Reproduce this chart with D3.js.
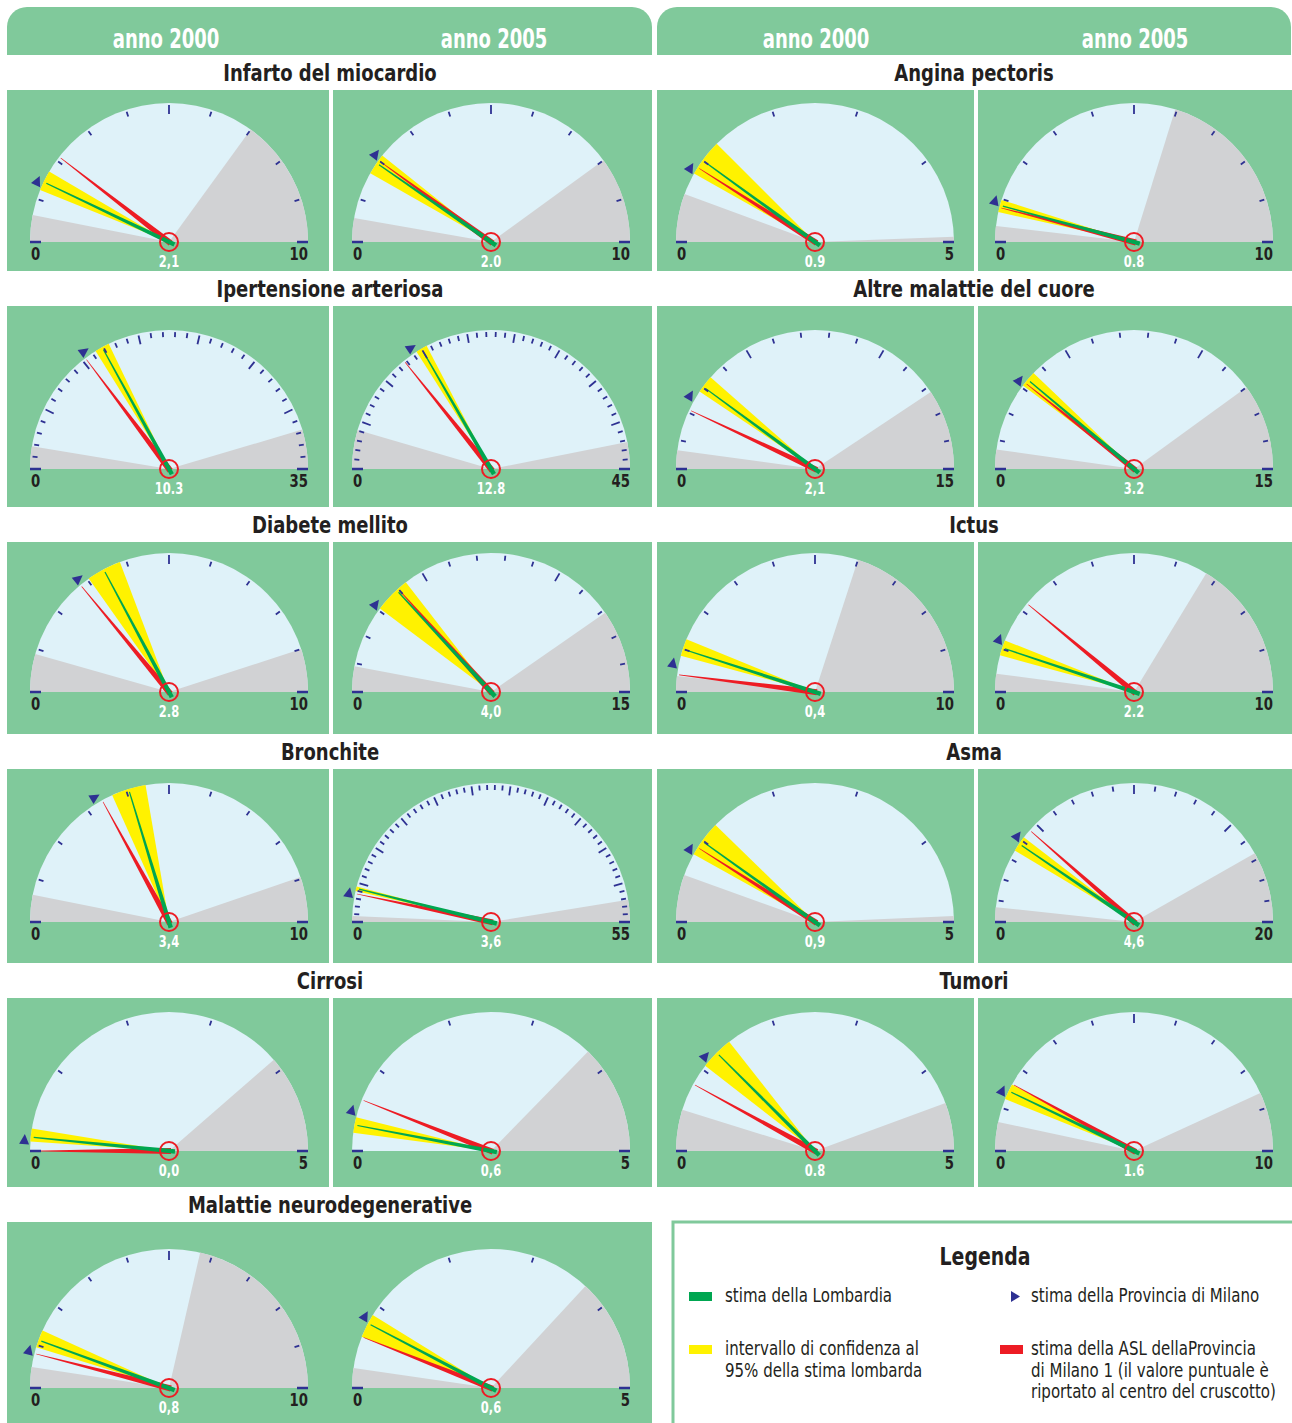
<!DOCTYPE html>
<html lang="it">
<head>
<meta charset="utf-8" />
<title>Cruscotti ASL Provincia di Milano 1</title>
<script src="https://cdnjs.cloudflare.com/ajax/libs/d3/7.8.5/d3.min.js"></script>
<style>
  body { margin: 0; background: #fff; }
  svg { display: block; font-family: "Liberation Sans Narrow", "Arial Narrow", "DejaVu Sans Condensed", sans-serif; font-stretch: condensed; }
</style>
</head>
<body>
<svg id="chart" width="1292" height="1423"></svg>
<script>
// ---- data: one entry per gauge, disease by disease, 2000 then 2005 ----
const years = ["anno 2000", "anno 2005"];
const diseases = ["Infarto del miocardio", "Angina pectoris", "Ipertensione arteriosa", "Altre malattie del cuore",
  "Diabete mellito", "Ictus", "Bronchite", "Asma", "Cirrosi", "Tumori", "Malattie neurodegenerative"];
const scaleMax  = [10, 10,   5, 10,   35, 45,   15, 15,   10, 15,   10, 10,   10, 55,   5, 20,   5, 5,   5, 10,   10, 5];
const grayLow   = [0.62, 0.55, 0.56, 0.37, 1.83, 4.08, 0.65, 0.67, 0.88, 0.89, 0.37, 0.42, 0.63, 0.76, 0.55, 0.68, 0, 0, 0.48, 0.67, 0.48, 0.23];
const grayHigh  = [7.0, 8.0, 4.94, 5.96, 31.8, 42.2, 12.2, 12.0, 9.0, 12.1, 6.0, 6.74, 8.95, 52.2, 4.93, 16.7, 3.86, 3.73, 4.44, 8.63, 5.72, 3.69];
const ciLow     = [1.22, 1.65, 0.82, 0.69, 11.3, 14.4, 2.82, 3.08, 3.04, 3.08, 0.84, 0.85, 3.66, 3.95, 0.81, 3.44, 0.11, 0.21, 1.05, 1.22, 0.95, 0.60];
const ciHigh    = [1.69, 2.14, 1.25, 0.98, 12.5, 15.6, 3.44, 3.64, 3.85, 4.35, 1.24, 1.21, 4.46, 4.52, 1.23, 4.17, 0.26, 0.39, 1.44, 1.59, 1.36, 0.88];
const lombardia = [1.42, 1.92, 1.0, 0.85, 11.9, 15.0, 3.03, 3.34, 3.44, 3.93, 1.0, 1.03, 4.06, 4.28, 0.99, 3.81, 0.16, 0.30, 1.25, 1.42, 1.12, 0.77];
const provincia = [1.37, 2.06, 0.85, 0.91, 10.5, 14.1, 2.53, 3.13, 2.84, 3.09, 0.63, 1.18, 3.28, 3.5, 0.84, 4.03, 0.12, 0.45, 1.13, 1.36, 0.83, 0.82];
const asl       = [2.1, 2.0, 0.9, 0.8, 10.3, 12.8, 2.1, 3.2, 2.8, 4.0, 0.4, 2.2, 3.4, 3.6, 0.9, 4.6, 0.0, 0.6, 0.8, 1.6, 0.8, 0.6];
const aslLabel  = ["2,1", "2.0", "0.9", "0.8", "10.3", "12.8", "2,1", "3.2", "2.8", "4,0", "0,4", "2.2",
  "3,4", "3,6", "0,9", "4,6", "0,0", "0,6", "0.8", "1.6", "0,8", "0,6"];
const legendItems = [
  {lines: ["stima della Lombardia"], mark: "green"},
  {lines: ["stima della Provincia di Milano"], mark: "triangle"},
  {lines: ["intervallo di confidenza al", "95% della stima lombarda"], mark: "yellow"},
  {lines: ["stima della ASL dellaProvincia", "di Milano 1 (il valore puntuale è", "riportato al centro del cruscotto)"], mark: "red"}
];

// ---- colours ----
const C = {
  green: "#80c99b", sky: "#dff2f9", gray: "#d1d2d4", yellow: "#fff200",
  needle: "#00a651", red: "#ed1c24", navy: "#2e3192", ink: "#231f20"
};

const svg = d3.select("#chart");

// text squeezed sideways to look like the narrow face of the original
function label(parent, x, y, txt, size, sx, opts = {}) {
  return parent.append("text")
    .attr("transform", `translate(${x},${y}) scale(${sx},1)`)
    .attr("text-anchor", opts.anchor || "start")
    .attr("font-size", size)
    .attr("font-weight", opts.bold ? "bold" : "normal")
    .attr("fill", opts.fill || C.ink)
    .text(txt);
}

// ---- layout ----
const bandTop = [55, 271, 507, 734, 963, 1187, 1423];
const titleH = 35;
const gaugeCy = [242, 469, 692, 922, 1151, 1388];
const colX = [[7, 329], [333, 652], [657, 974], [978, 1292]];
const gaugeCx = [169, 491, 815, 1134];
const headX = [166, 494, 816, 1135];
const sideCenter = [330, 974];
const R = 139;

// header bars with rounded top corners
function topRounded(x0, x1, y0, y1, r) {
  return `M${x0},${y1}V${y0 + r}A${r},${r} 0 0 1 ${x0 + r},${y0}H${x1 - r}A${r},${r} 0 0 1 ${x1},${y0 + r}V${y1}Z`;
}
[[7, 652], [657, 1291]].forEach(([x0, x1], s) => {
  svg.append("path").attr("d", topRounded(x0, x1, 7, 55, 20)).attr("fill", C.green);
  years.forEach((y, j) => {
    label(svg, headX[s * 2 + j], 48, y, 26, 0.77, {anchor: "middle", bold: true, fill: "#fff"});
  });
});

// ---- one gauge ----
function drawGauge(k, cx, cy) {
  const max = scaleMax[k];
  const a = d3.scaleLinear().domain([0, max]).range([-Math.PI / 2, Math.PI / 2]);
  const arc = d3.arc().innerRadius(0).outerRadius(R);
  const g = svg.append("g").attr("transform", `translate(${cx},${cy})`);
  const pt = (v, rr) => [rr * Math.sin(a(v)), -rr * Math.cos(a(v))];

  g.append("path").attr("d", arc({startAngle: a(0), endAngle: a(max)})).attr("fill", C.sky);
  if (grayLow[k] > 0)
    g.append("path").attr("d", arc({startAngle: a(0), endAngle: a(grayLow[k])})).attr("fill", C.gray);
  g.append("path").attr("d", arc({startAngle: a(grayHigh[k]), endAngle: a(max)})).attr("fill", C.gray);
  g.append("path").attr("d", arc({startAngle: a(ciLow[k]), endAngle: a(ciHigh[k])})).attr("fill", C.yellow);

  // tapered needle from the centre to the rim
  function needle(v, w0, w1, len, tail, color) {
    const an = a(v), u = [Math.sin(an), -Math.cos(an)], n = [Math.cos(an), Math.sin(an)];
    const pts = [
      [-u[0] * tail + n[0] * w0 / 2, -u[1] * tail + n[1] * w0 / 2],
      [u[0] * len + n[0] * w1 / 2, u[1] * len + n[1] * w1 / 2],
      [u[0] * len - n[0] * w1 / 2, u[1] * len - n[1] * w1 / 2],
      [-u[0] * tail - n[0] * w0 / 2, -u[1] * tail - n[1] * w0 / 2]
    ];
    g.append("path").attr("d", d3.line()(pts) + "Z").attr("fill", color);
  }
  needle(asl[k], 6, 0.6, R - 2, 2, C.red);
  needle(lombardia[k], 4.5, 1.2, R - 3, 6, C.needle);

  // ticks
  d3.range(1, max).forEach(v => {
    const len = v % 5 === 0 ? 9 : 5;
    const p0 = pt(v, R - 2), p1 = pt(v, R - 2 - len);
    g.append("line").attr("x1", p0[0]).attr("y1", p0[1]).attr("x2", p1[0]).attr("y2", p1[1])
      .attr("stroke", C.navy).attr("stroke-width", 1.8);
  });
  [[-R, -R + 11], [R - 11, R]].forEach(([x1, x2]) => {
    g.append("line").attr("x1", x1).attr("x2", x2).attr("y1", 0).attr("y2", 0)
      .attr("stroke", C.navy).attr("stroke-width", 2.5);
  });

  // province marker, a small triangle outside the rim
  const ap = a(provincia[k]);
  const c = pt(provincia[k], R + 6), t = [Math.cos(ap), Math.sin(ap)], rn = [Math.sin(ap), -Math.cos(ap)];
  const tri = [
    [c[0] + t[0] * 6, c[1] + t[1] * 6],
    [c[0] - t[0] * 4 + rn[0] * 5, c[1] - t[1] * 4 + rn[1] * 5],
    [c[0] - t[0] * 4 - rn[0] * 5, c[1] - t[1] * 4 - rn[1] * 5]
  ];
  g.append("path").attr("d", d3.line()(tri) + "Z").attr("fill", C.navy);

  g.append("circle").attr("r", 9).attr("fill", "none").attr("stroke", C.red).attr("stroke-width", 2);

  label(g, -R + 1, 18, 0, 18, 0.82, {bold: true});
  label(g, R, 18, max, 18, 0.82, {bold: true, anchor: "end"});
  label(g, 0, 25, aslLabel[k], 15, 0.85, {bold: true, anchor: "middle", fill: "#fff"});
}

// ---- rows of panels ----
diseases.forEach((name, i) => {
  const row = Math.floor(i / 2), side = i % 2;
  const y0 = bandTop[row] + titleH, y1 = bandTop[row + 1];
  label(svg, sideCenter[side], bandTop[row] + 26, name, 23, 0.87, {anchor: "middle", bold: true});
  if (i === diseases.length - 1) {
    svg.append("rect").attr("x", colX[0][0]).attr("y", y0).attr("width", colX[1][1] - colX[0][0])
      .attr("height", y1 - y0).attr("fill", C.green);
  } else {
    [0, 1].forEach(j => {
      const [x0, x1] = colX[side * 2 + j];
      svg.append("rect").attr("x", x0).attr("y", y0).attr("width", x1 - x0).attr("height", y1 - y0)
        .attr("fill", C.green);
    });
  }
  [0, 1].forEach(j => drawGauge(i * 2 + j, gaugeCx[side * 2 + j], gaugeCy[row]));
});

// ---- legend ----
const lg = svg.append("g");
lg.append("rect").attr("x", 673).attr("y", 1222).attr("width", 640).attr("height", 230)
  .attr("fill", "#fff").attr("stroke", C.green).attr("stroke-width", 3);
label(lg, 985, 1265, "Legenda", 25, 0.84, {anchor: "middle", bold: true});
const legX = [689, 1000], legY = [1302, 1355];
legendItems.forEach((it, i) => {
  const x = legX[i % 2], y = legY[Math.floor(i / 2)];
  if (it.mark === "triangle") {
    lg.append("path").attr("d", `M${x + 11},${y - 11}L${x + 20},${y - 5.5}L${x + 11},${y}Z`).attr("fill", C.navy);
  } else {
    const col = {green: C.needle, yellow: C.yellow, red: C.red}[it.mark];
    lg.append("rect").attr("x", x).attr("y", y - 10).attr("width", 23).attr("height", 9).attr("fill", col);
  }
  it.lines.forEach((ln, li) => {
    label(lg, x + 36 + (i % 2 ? -5 : 0), y + li * 21.5, ln, 19, 0.88);
  });
});
</script>
</body>
</html>
